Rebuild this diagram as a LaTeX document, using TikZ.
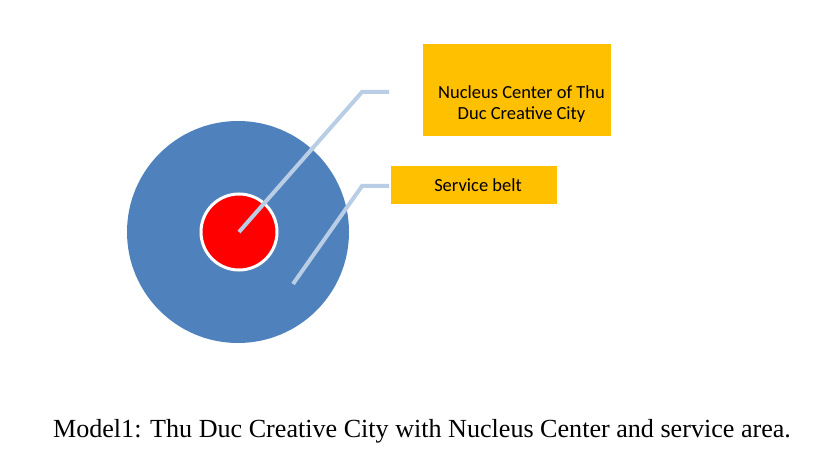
\documentclass[tikz,border=0pt]{standalone}
\usepackage{fontspec}
\setmainfont{Liberation Serif}
\newfontfamily\boxfont{Carlito}
\definecolor{beltblue}{HTML}{4F81BD}
\definecolor{nucleusred}{HTML}{FF0000}
\definecolor{labelorange}{HTML}{FFC000}
\definecolor{leaderblue}{HTML}{B9CDE5}
\tikzset{
  belt/.style={circle, fill=beltblue, draw=none, minimum size=222pt, inner sep=0pt},
  nucleus/.style={circle, fill=nucleusred, draw=white, line width=3pt, minimum size=76pt, inner sep=0pt},
  labelbox/.style={fill=labelorange, draw=none, inner sep=0pt},
  boxtext/.style={font=\boxfont\fontsize{18.5}{21}\selectfont, align=center, inner sep=0pt},
  leader/.style={draw=leaderblue, line width=4pt, line cap=butt, line join=miter},
  caption/.style={font=\fontsize{26.1}{30}\selectfont, anchor=base, inner sep=0pt}
}
\begin{document}
\begin{tikzpicture}[x=1pt,y=-1pt]
\useasboundingbox (0,0) rectangle (840,462);
\node[belt] (belt) at (238,232) {};
\node[nucleus] (nuc) at (239,232) {};
\node[labelbox, minimum width=188pt, minimum height=92pt] (nucbox) at (517,90) {};
\node[boxtext, anchor=base] (nuctext) at (521.5,120) {Nucleus Center of Thu\\Duc Creative City};
\node[labelbox, boxtext, minimum width=166pt, minimum height=38pt] (beltbox) at (474,185) {\hspace*{8pt}Service belt};
\coordinate (nucend) at (239,232);
\coordinate (nucelbow) at (362,92);
\coordinate (nuctip) at (389,92);
\coordinate (beltend) at (293,284);
\coordinate (beltelbow) at (362,186);
\coordinate (belttip) at (389,186);
\draw[leader] (nucend) -- (nucelbow) -- (nuctip);
\draw[leader] (beltend) -- (beltelbow) -- (belttip);
\node[caption] (cap) at (422,437) {Model1: Thu Duc Creative City with Nucleus Center and service area.};
\end{tikzpicture}
\end{document}
